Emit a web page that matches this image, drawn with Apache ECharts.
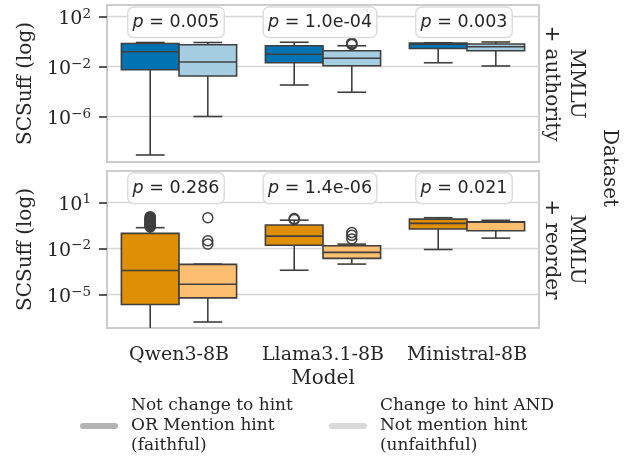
<!DOCTYPE html>
<html><head><meta charset="utf-8">
<script src="https://cdn.jsdelivr.net/npm/echarts@6/dist/echarts.min.js"></script>
<style>html,body{margin:0;padding:0;background:#fff}#c{width:629px;height:457px}</style>
</head><body><div id="c"></div>
<script>
// ---------------- data (log10 of SCSuff) ----------------
const models = ['Qwen3-8B', 'Llama3.1-8B', 'Ministral-8B'];
const datasets = ['MMLU\n+ authority', 'MMLU\n+ reorder'];
const hues = ['Not change to hint\nOR Mention hint\n(faithful)', 'Change to hint AND\nNot mention hint\n(unfaithful)'];
// each row: [lower whisker, Q1, median, Q3, upper whisker] per model
const authorityFaithful   = [[-9.08, -2.26, -0.82, -0.16, -0.08], [-3.48, -1.70, -1.02, -0.34, -0.06], [-1.70, -0.56, -0.22, -0.12, -0.10]];
const authorityUnfaithful = [[-6.00, -2.76, -1.64, -0.26, -0.08], [-4.06, -1.94, -1.34, -0.74, -0.34], [-1.96, -0.74, -0.42, -0.20, -0.04]];
const reorderFaithful     = [[-8.00, -5.65, -3.44, -1.02, -0.65], [-3.42, -1.79, -1.20, -0.48, -0.16], [-2.07, -0.74, -0.37, -0.09, 0.00]];
const reorderUnfaithful   = [[-6.79, -5.22, -4.33, -3.04, -3.02], [-3.02, -2.65, -2.26, -1.83, -1.72], [-1.33, -0.85, -0.29, -0.27, -0.17]];
// outliers: [model index, log10 value]
const authorityFaithfulOut   = [];
const authorityUnfaithfulOut = [[1, -0.12], [1, -0.18], [1, -0.24]];
const reorderFaithfulOut     = [[0, -0.60], [0, -0.55], [0, -0.51], [0, -0.46], [0, -0.42], [0, -0.37], [0, -0.31], [0, -0.27],
                                [0, -0.22], [0, -0.18], [0, -0.12], [0, -0.08], [0, -0.03], [0, 0.02], [0, 0.07], [1, -0.12], [1, -0.06]];
const reorderUnfaithfulOut   = [[0, 0.00], [0, -1.50], [0, -1.72], [1, -0.96], [1, -1.15], [1, -1.38]];
const authorityP = ['0.005', '1.0e-04', '0.003'];
const reorderP   = ['0.286', '1.4e-06', '0.021'];
const authorityTicks = [-6, -2, 2];
const reorderTicks   = [-5, -2, 1];
const authorityRange = [-9.64, 2.92];
const reorderRange   = [-7.18, 3.04];

// ---------------- styling ----------------
const SERIF = 'DejaVu Serif';
const SANS = 'DejaVu Sans';
const TXT = '#262626';
const EDGE = '#3f3f3f';
const COLORS = [['#0173b2', '#a6cee3'], ['#de8f05', '#fdbf6f']];
const LEGEND_COLORS = ['#b3b3b3', '#d9d9d9'];

function boxRender(hueIdx, color) {
  return function (params, api) {
    const cat = api.value(0);
    const band = api.size([1, 0])[0];
    const bw = band * 0.4;
    const cx = api.coord([cat, 0])[0] + (hueIdx === 0 ? -bw / 2 : bw / 2);
    const yy = i => api.coord([cat, api.value(i)])[1];
    const lo = yy(1), q1 = yy(2), md = yy(3), q3 = yy(4), hi = yy(5);
    const ls = { stroke: EDGE, lineWidth: 1.6 };
    return { type: 'group', children: [
      { type: 'line', shape: { x1: cx, y1: q1, x2: cx, y2: lo }, style: ls },
      { type: 'line', shape: { x1: cx, y1: q3, x2: cx, y2: hi }, style: ls },
      { type: 'line', shape: { x1: cx - bw / 4, y1: lo, x2: cx + bw / 4, y2: lo }, style: ls },
      { type: 'line', shape: { x1: cx - bw / 4, y1: hi, x2: cx + bw / 4, y2: hi }, style: ls },
      { type: 'rect', shape: { x: cx - bw / 2, y: q3, width: bw, height: q1 - q3 }, style: { fill: color, stroke: EDGE, lineWidth: 1.6 } },
      { type: 'line', shape: { x1: cx - bw / 2, y1: md, x2: cx + bw / 2, y2: md }, style: ls }
    ] };
  };
}
function outRender(hueIdx) {
  return function (params, api) {
    const cat = api.value(0);
    const band = api.size([1, 0])[0];
    const bw = band * 0.4;
    const cx = api.coord([cat, 0])[0] + (hueIdx === 0 ? -bw / 2 : bw / 2);
    const cy = api.coord([cat, api.value(1)])[1];
    return { type: 'circle', shape: { cx: cx, cy: cy, r: 5 }, style: { fill: 'transparent', stroke: EDGE, lineWidth: 1.5 } };
  };
}
function pRender(labels) {
  return function (params, api) {
    const cat = api.value(0);
    const cx = api.coord([cat, 0])[0] - 3;
    const cs = params.coordSys;
    const cy = cs.y + cs.height * 0.11;
    return { type: 'text', x: cx, y: cy, style: {
      text: '{i|p}{r| = ' + labels[params.dataIndex] + '}',
      align: 'center', verticalAlign: 'middle',
      backgroundColor: '#ffffff', borderColor: '#dcdcdc', borderWidth: 1.5, borderRadius: 5,
      padding: [6, 4, 5, 4],
      rich: {
        i: { fontStyle: 'italic', fontFamily: SANS, fontSize: 17.5, fill: TXT },
        r: { fontFamily: SANS, fontSize: 17.5, fill: TXT }
      }
    } };
  };
}

function supLabel(v) {
  const s = v < 0 ? '\u2212' + Math.abs(v) : String(v);
  return '{b|10}{s|' + s + '}';
}
function yAxisLeft(gi, range, ticks) {
  return {
    type: 'value', gridIndex: gi, min: range[0], max: range[1],
    name: 'SCSuff (log)', nameLocation: 'middle', nameGap: 68, nameRotate: 90,
    nameTextStyle: { fontFamily: SERIF, fontSize: 20, color: TXT },
    axisLine: { show: false },
    axisTick: { show: true, length: 8, customValues: ticks, lineStyle: { color: TXT, width: 1.5 } },
    axisLabel: { customValues: ticks, margin: 16, formatter: supLabel,
      rich: {
        b: { fontFamily: SERIF, fontSize: 19, color: TXT, lineHeight: 20, padding: [5, 0, 0, 0] },
        s: { fontFamily: SERIF, fontSize: 13.5, color: TXT, lineHeight: 14, padding: [0, 0, 5, 0] }
      } },
    splitLine: { show: true, lineStyle: { color: '#d6d6d6', width: 1.3 } }
  };
}
function yAxisRight(gi, name) {
  return {
    type: 'value', gridIndex: gi, position: 'right', min: 0, max: 1,
    name: name, nameLocation: 'middle', nameGap: 0, nameRotate: -90,
    nameTextStyle: { fontFamily: SERIF, fontSize: 20, color: TXT, lineHeight: 25 },
    axisLine: { show: false }, axisTick: { show: false }, axisLabel: { show: false }, splitLine: { show: false }
  };
}
function xAxis(gi, showLabels) {
  const a = {
    type: 'category', gridIndex: gi, data: models,
    axisLine: { show: false }, axisTick: { show: false },
    axisLabel: { show: showLabels, interval: 0, hideOverlap: false, margin: 18, fontFamily: SERIF, fontSize: 19, color: TXT },
    splitLine: { show: false }
  };
  if (showLabels) {
    a.name = 'Model'; a.nameLocation = 'middle'; a.nameGap = 41;
    a.nameTextStyle = { fontFamily: SERIF, fontSize: 20, color: TXT };
  }
  return a;
}

const panels = [
  { gi: 0, box: [authorityFaithful, authorityUnfaithful], out: [authorityFaithfulOut, authorityUnfaithfulOut], p: authorityP },
  { gi: 1, box: [reorderFaithful, reorderUnfaithful], out: [reorderFaithfulOut, reorderUnfaithfulOut], p: reorderP }
];
const series = [];
panels.forEach(pn => {
  [0, 1].forEach(h => {
    series.push({
      type: 'custom', name: hues[h], xAxisIndex: pn.gi, yAxisIndex: pn.gi, clip: true,
      itemStyle: { color: COLORS[pn.gi][h] },
      renderItem: boxRender(h, COLORS[pn.gi][h]),
      data: pn.box[h].map((r, i) => [i].concat(r)), z: 2
    });
    series.push({
      type: 'custom', xAxisIndex: pn.gi, yAxisIndex: pn.gi, clip: true,
      renderItem: outRender(h), data: pn.out[h], z: 3
    });
  });
  series.push({
    type: 'custom', xAxisIndex: pn.gi, yAxisIndex: pn.gi,
    renderItem: pRender(pn.p), data: models.map((m, i) => [i]), z: 4
  });
});

const capsule = 'path://M3,0H35A3,3,0,0,1,35,6H3A3,3,0,0,1,3,0Z';
const option = {
  animation: false,
  backgroundColor: '#ffffff',
  grid: [
    { left: 107, top: 5, width: 432, height: 157, show: true, borderColor: '#cccccc', borderWidth: 2 },
    { left: 107, top: 171, width: 432, height: 157, show: true, borderColor: '#cccccc', borderWidth: 2 }
  ],
  xAxis: [xAxis(0, false), xAxis(1, true)],
  yAxis: [
    yAxisLeft(0, authorityRange, authorityTicks),
    yAxisLeft(1, reorderRange, reorderTicks),
    yAxisRight(0, datasets[0]),
    yAxisRight(1, datasets[1])
  ],
  legend: {
    left: 80, top: 396, padding: 0, itemGap: 36, itemWidth: 38, itemHeight: 6, icon: capsule,
    selectedMode: false,
    data: [
      { name: hues[0], itemStyle: { color: LEGEND_COLORS[0] } },
      { name: hues[1], itemStyle: { color: LEGEND_COLORS[1] } }
    ],
    textStyle: { fontFamily: SERIF, fontSize: 17, lineHeight: 20, color: TXT, padding: [0, 0, 0, 8] }
  },
  graphic: [
    { type: 'text', x: 609, y: 168, rotation: -Math.PI / 2,
      style: { text: 'Dataset', fontFamily: SERIF, fontSize: 20, fill: TXT, align: 'center', verticalAlign: 'middle' } }
  ],
  series: series
};
const chart = echarts.init(document.getElementById('c'), null, { renderer: 'canvas' });
chart.setOption(option);
</script></body></html>
